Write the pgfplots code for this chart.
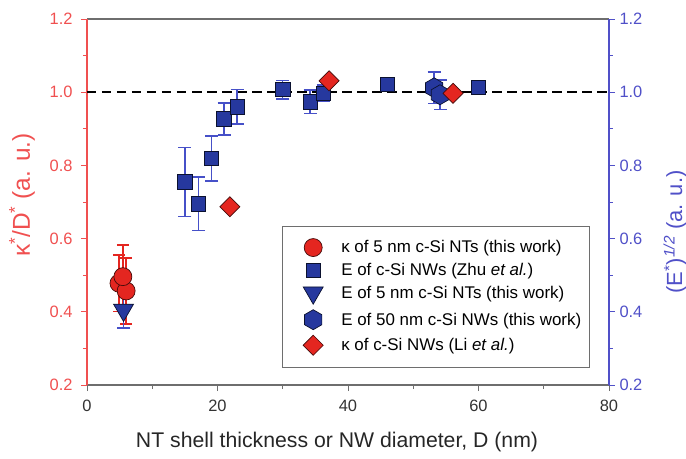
\documentclass[border=0pt]{standalone}
\usepackage{fontspec}
\setmainfont{Liberation Sans}
\usepackage{pgfplots}
\usepackage{pgfplotstable}
\pgfplotsset{compat=1.18}
\definecolor{redf}{RGB}{228,38,32}
\definecolor{bluef}{RGB}{38,56,158}
\definecolor{redax}{RGB}{240,80,80}
\definecolor{blueax}{RGB}{80,80,200}
\definecolor{bluee}{RGB}{70,80,200}
\definecolor{grayax}{RGB}{110,110,110}

\pgfdeclareplotmark{hexagon*}{%
  \pgfpathmoveto{\pgfqpointpolar{90}{\pgfplotmarksize}}%
  \pgfpathlineto{\pgfqpointpolar{150}{\pgfplotmarksize}}%
  \pgfpathlineto{\pgfqpointpolar{210}{\pgfplotmarksize}}%
  \pgfpathlineto{\pgfqpointpolar{270}{\pgfplotmarksize}}%
  \pgfpathlineto{\pgfqpointpolar{330}{\pgfplotmarksize}}%
  \pgfpathlineto{\pgfqpointpolar{30}{\pgfplotmarksize}}%
  \pgfpathclose
  \pgfusepathqfillstroke}

\pgfplotsset{
  mylgd/.style={legend image code/.code={\path (0cm,0cm) (1.75cm,0cm); \draw[##1] plot coordinates {(0.85cm,0cm)};}},
  ebred/.style={forget plot, only marks, mark=none,
    error bars/.cd, y dir=both, y explicit,
    error bar style={redf, line width=1.5bp},
    error mark options={redf, line width=1.5bp, mark size=6bp, rotate=90}},
  ebblue/.style={forget plot, only marks, mark=none,
    error bars/.cd, y dir=both, y explicit,
    error bar style={bluee, line width=1.5bp},
    error mark options={bluee, line width=1.5bp, mark size=6.5bp, rotate=90}},
}

\pgfplotstableread{
x y e
4.9 0.478 0.077
6.0 0.457 0.090
5.5 0.496 0.086
}\circles
\pgfplotstableread{
x y e
15.0 0.755 0.094
17.1 0.695 0.073
19.1 0.819 0.061
21.0 0.927 0.044
23.0 0.960 0.047
30.0 1.007 0.025
34.2 0.974 0.032
36.2 0.997 0.022
46.0 1.022 0.008
60.0 1.014 0.006
}\zhu
\pgfplotstableread{
x y e
5.6 0.405 0.049
}\tri
\pgfplotstableread{
x y e
53.2 1.012 0.043
54.1 0.993 0.040
}\hexa
\pgfplotstableread{
x y
21.9 0.687
37.1 1.031
56.1 0.997
}\li

\begin{document}
\begin{tikzpicture}
\begin{axis}[
  scale only axis, width=522bp, height=366bp,
  xmin=0, xmax=80, ymin=0.2, ymax=1.2,
  axis x line*=box, axis y line*=left,
  x axis line style={grayax, line width=1.1bp, -},
  y axis line style={redax, line width=1.1bp, -},
  xtick={0,20,40,60,80}, minor x tick num=1,
  ytick={0.2,0.4,...,1.21}, minor y tick num=1,
  xtick pos=left, ytick pos=left,
  tick align=outside,
  major tick length=6bp, minor tick length=4bp,
  x tick style={grayax, line width=0.8bp},
  y tick style={redax, line width=0.8bp},
  /pgf/number format/assume math mode=true,
  yticklabel style={/pgf/number format/fixed, /pgf/number format/fixed zerofill, /pgf/number format/precision=1},
  ticklabel style={font=\fontsize{16.5}{18}\selectfont},
  yticklabel style={text=redax, xshift=-5bp},
  xticklabel style={text=black!80, yshift=-6bp},
  xlabel={NT shell thickness or NW diameter, D (nm)},
  xlabel style={font=\fontsize{21.3}{23}\selectfont, text=black!85, at={(axis description cs:0.479,-0.156)}, anchor=center},
  ylabel={κ\textsuperscript{*}/D\textsuperscript{*} (a. u.)},
  ylabel style={font=\fontsize{24.5}{26}\selectfont, text=redax, at={(axis description cs:-0.1245,0.519)}, anchor=center},
  legend style={at={(0.3736,0.4344)}, anchor=north west, draw=grayax, line width=1.1bp,
    fill=white, font=\fontsize{17}{20}\selectfont, cells={anchor=west},
    nodes={inner ysep=1.5bp}, row sep=5.5bp, inner xsep=6bp, inner ysep=12bp},
  legend cell align=left,
  mylgd,
]
\coordinate (sw) at (rel axis cs:0,0);
\addplot[forget plot, black, line width=2.6bp, dash pattern=on 9.5bp off 5.5bp] coordinates {(0,1) (80,1)};
% error bars first (behind marks)
\addplot[ebred] table[x=x, y=y, y error=e] {\circles};
\addplot[ebblue] table[x=x, y=y, y error=e] {\zhu};
\addplot[ebblue] table[x=x, y=y, y error=e] {\tri};
\addplot[ebblue] table[x=x, y=y, y error=e] {\hexa};
% red circles
\addplot[only marks, mark=*, mark size=9bp, mark options={fill=redf, draw=black!70!redf, line width=0.7bp}]
  table[x=x, y=y] {\circles};
\addlegendentry{κ of 5 nm c-Si NTs (this work)}
% Zhu squares
\addplot[only marks, mark=square*, mark size=7.2bp, mark options={fill=bluef, draw=black!70!bluef, line width=0.7bp}]
  table[x=x, y=y] {\zhu};
\addlegendentry{E of c-Si NWs (Zhu \textit{et al.})}
% triangles
\addplot[only marks, mark=triangle*, mark size=11.5bp, mark options={rotate=180, fill=bluef, draw=black!70!bluef, line width=0.7bp}]
  table[x=x, y=y] {\tri};
\addlegendentry{E of 5 nm c-Si NTs (this work)}
% hexagons
\addplot[only marks, mark=hexagon*, mark size=10bp, mark options={fill=bluef, draw=black!70!bluef, line width=0.7bp}]
  table[x=x, y=y] {\hexa};
\addlegendentry{E of 50 nm c-Si NWs (this work)}
% Li diamonds
\addplot[only marks, mark=square*, mark size=7.1bp, mark options={rotate=45, fill=redf, draw=black!70!redf, line width=0.7bp}]
  table[x=x, y=y] {\li};
\addlegendentry{κ of c-Si NWs (Li \textit{et al.})}
\end{axis}
\begin{axis}[
  scale only axis, width=522bp, height=366bp,
  xmin=0, xmax=80, ymin=0.2, ymax=1.2,
  axis x line=none, axis y line*=right,
  y axis line style={blueax, line width=1.1bp, -},
  ytick={0.2,0.4,...,1.21}, minor y tick num=1,
  tick align=outside,
  major tick length=6bp, minor tick length=4bp,
  y tick style={blueax, line width=0.8bp},
  /pgf/number format/assume math mode=true,
  yticklabel style={/pgf/number format/fixed, /pgf/number format/fixed zerofill, /pgf/number format/precision=1},
  yticklabel style={font=\fontsize{16.5}{18}\selectfont, text=blueax, xshift=1bp},
  ylabel={(E\textsuperscript{*})\textsuperscript{\itshape 1/2} (a. u.)},
  ylabel style={font=\fontsize{22}{24}\selectfont, text=blueax, at={(axis description cs:1.1264,0.418)}, anchor=center},
]
\addplot[draw=none, forget plot] coordinates {(0,0.2)};
\end{axis}
\pgfresetboundingbox
\path[use as bounding box] ([xshift=-87bp, yshift=-74bp]sw) rectangle ++(686bp,459bp);
\end{tikzpicture}
\end{document}
